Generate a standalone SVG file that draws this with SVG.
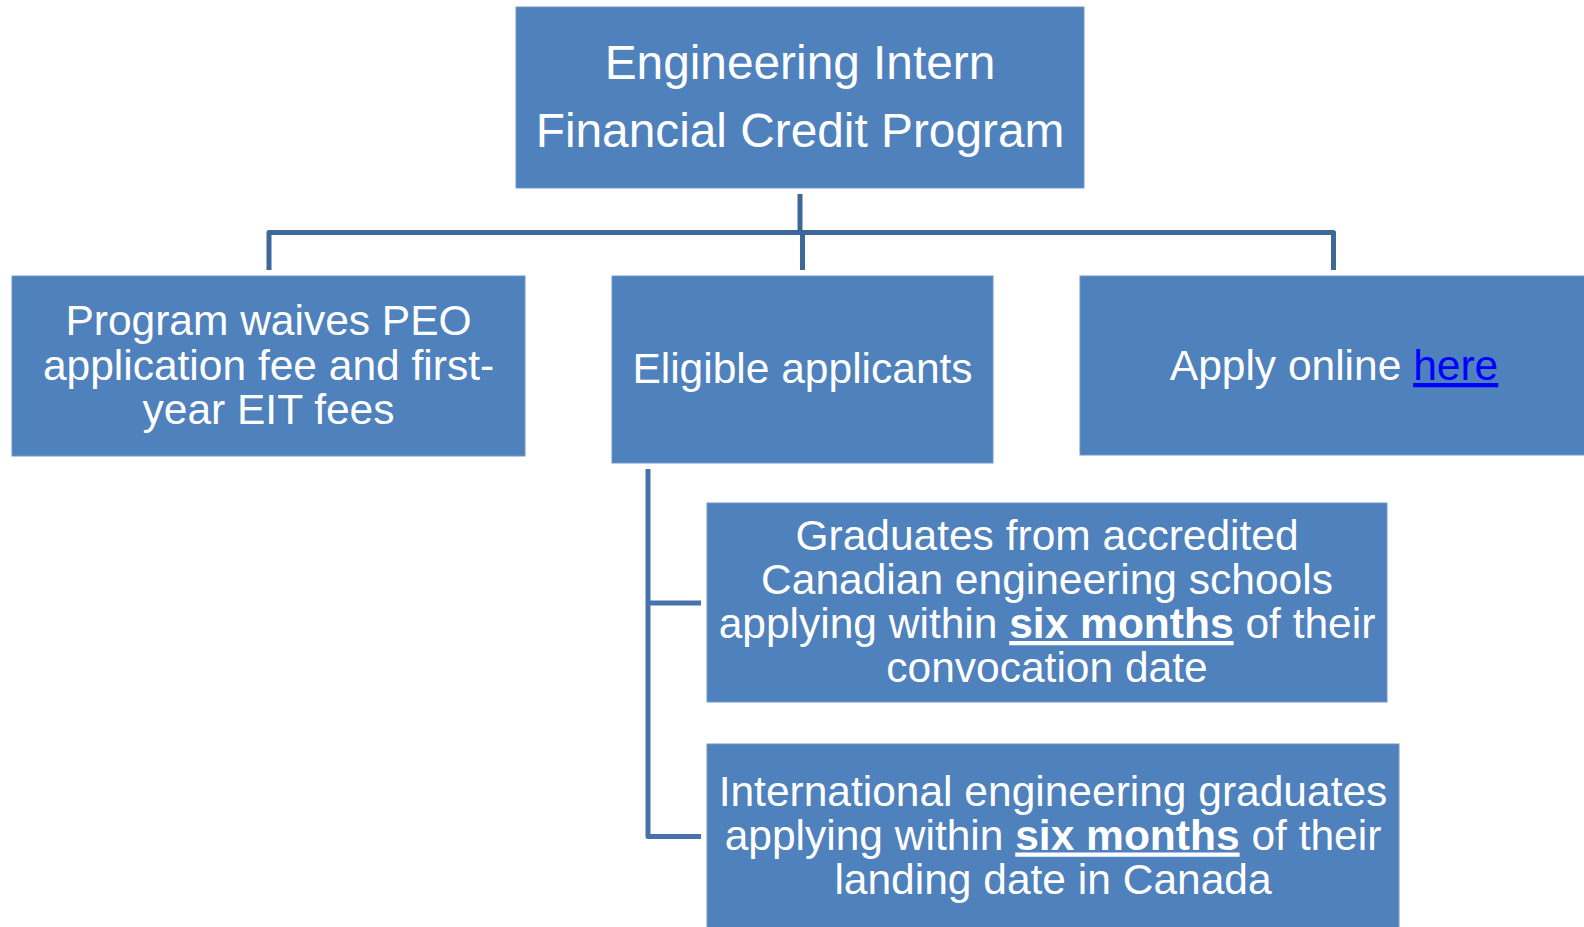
<svg xmlns="http://www.w3.org/2000/svg" width="1584" height="927" viewBox="0 0 1584 927">
<style>
.box{fill:#4F81BD;stroke:#6E96C9;stroke-width:1}
.t{font-family:"Liberation Sans",Arial,sans-serif;font-size:42.5px;fill:#FFFFFF;text-anchor:middle}
.big{font-size:47.8px}
.b{font-weight:bold;text-decoration:underline}
.link{fill:#0000FF;text-decoration:underline}
.conn{fill:none;stroke:#3E6898;stroke-width:5;stroke-linejoin:round}
.conn2{fill:none;stroke:#4673AB;stroke-width:5;stroke-linejoin:round}
</style>
<rect width="1584" height="927" fill="#FFFFFF"/>
<g id="connectors">
<path class="conn" d="M800,194 V232.5"/>
<path class="conn" d="M269,270 V232.5 H1333.5 V270"/>
<path class="conn" d="M802.5,232.5 V270"/>
<path class="conn2" d="M648,469 V836.5 H701 M648,603 H701"/>
</g>
<g id="node-top">
<rect class="box" x="516" y="7" width="568" height="181"/>
<text class="t big" x="800" y="79">Engineering Intern</text>
<text class="t big" x="800" y="147">Financial Credit Program</text>
</g>
<g id="node-waives">
<rect class="box" x="12" y="276" width="513" height="180"/>
<text class="t" x="268.5" y="335">Program waives PEO</text>
<text class="t" x="268.5" y="379.5">application fee and first-</text>
<text class="t" x="268.5" y="424">year EIT fees</text>
</g>
<g id="node-eligible">
<rect class="box" x="612" y="276" width="381" height="187"/>
<text class="t" x="802.5" y="383">Eligible applicants</text>
</g>
<g id="node-apply">
<rect class="box" x="1080" y="276" width="510" height="179"/>
<text class="t" x="1334" y="380">Apply online <tspan class="link">here</tspan></text>
</g>
<g id="node-graduates">
<rect class="box" x="707" y="503" width="680" height="199"/>
<text class="t" x="1047" y="550">Graduates from accredited</text>
<text class="t" x="1047" y="594">Canadian engineering schools</text>
<text class="t" x="1047" y="638">applying within <tspan class="b">six months</tspan> of their</text>
<text class="t" x="1047" y="682">convocation date</text>
</g>
<g id="node-international">
<rect class="box" x="707" y="744" width="692" height="190"/>
<text class="t" x="1053" y="805.5">International engineering graduates</text>
<text class="t" x="1053" y="849.5">applying within <tspan class="b">six months</tspan> of their</text>
<text class="t" x="1053" y="893.5">landing date in Canada</text>
</g>
</svg>
